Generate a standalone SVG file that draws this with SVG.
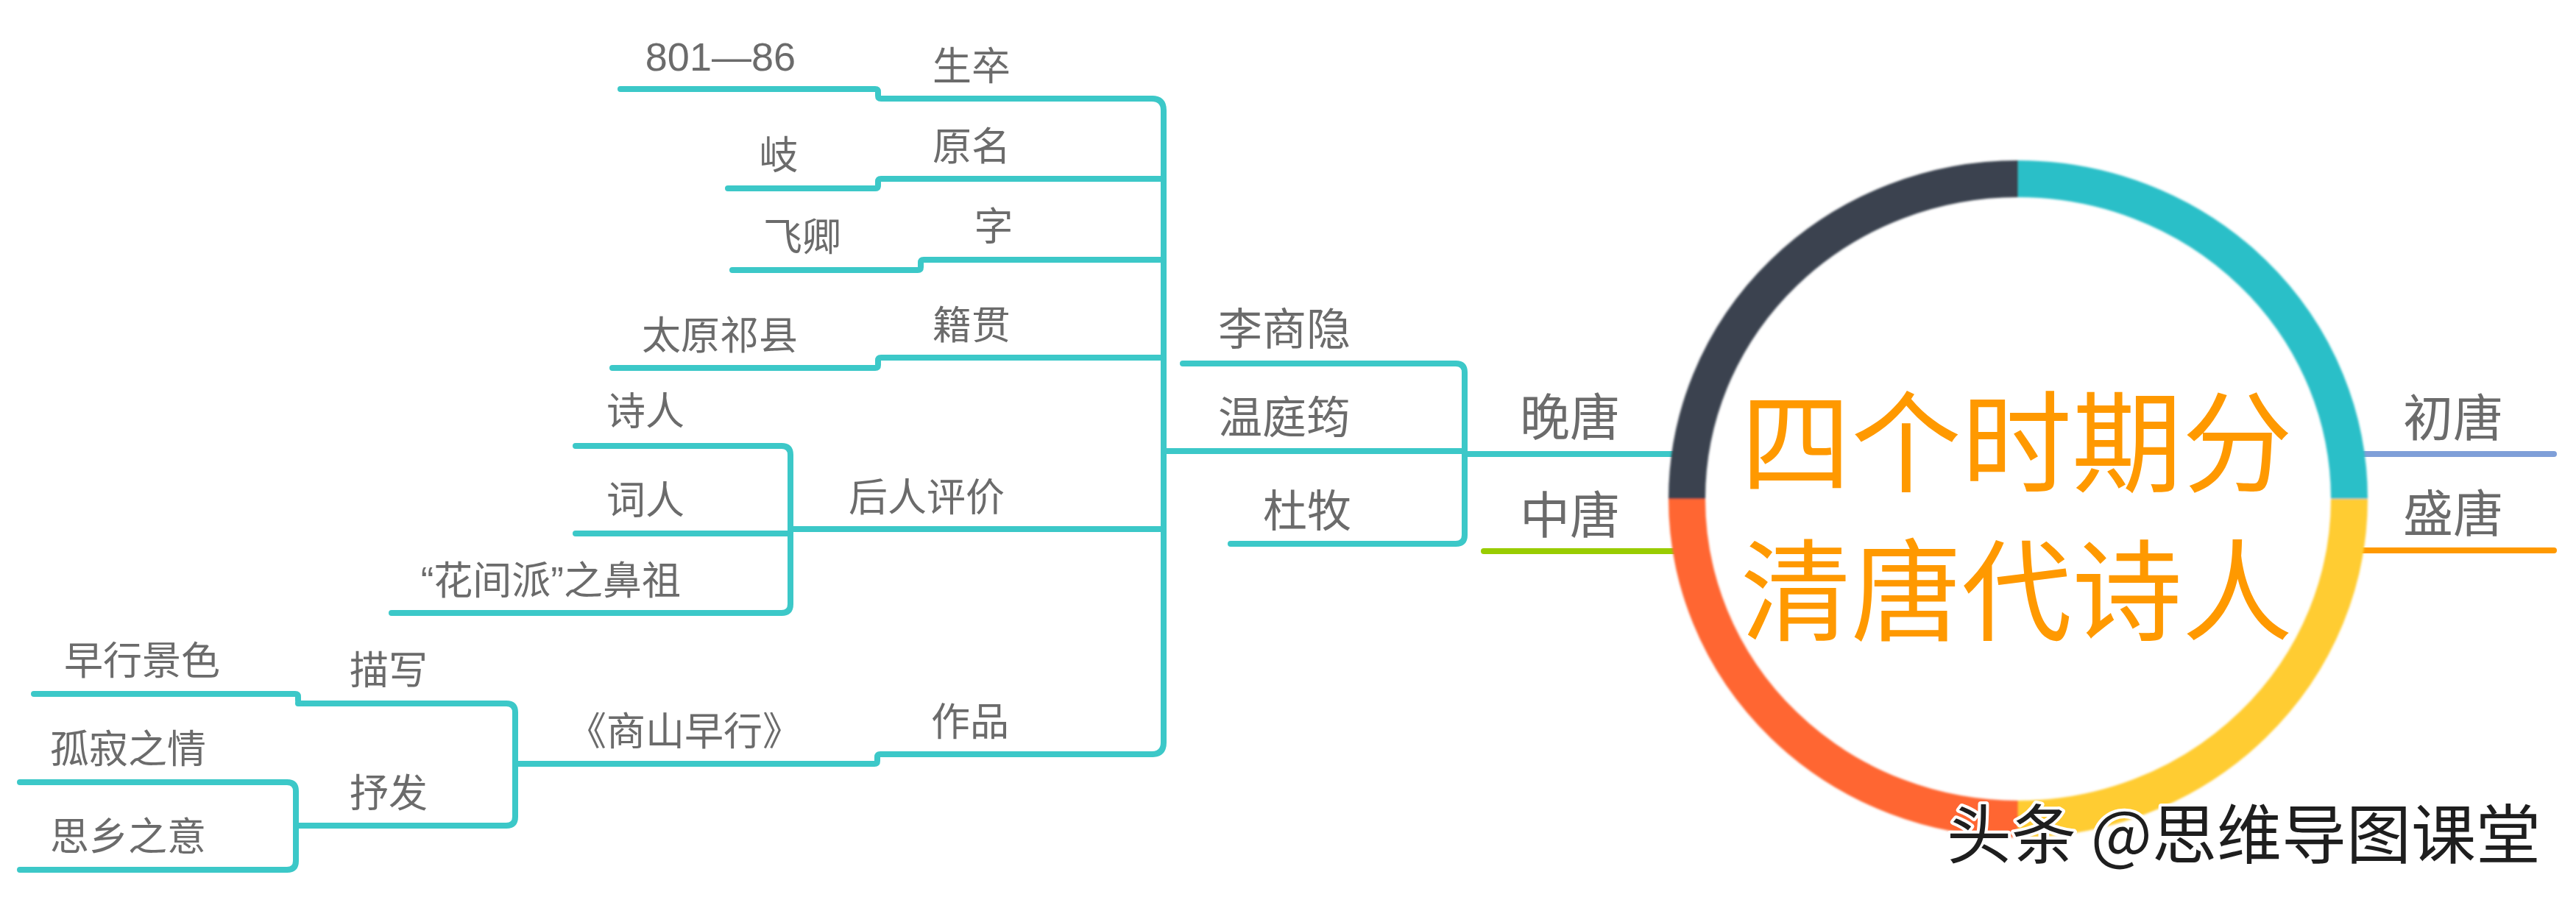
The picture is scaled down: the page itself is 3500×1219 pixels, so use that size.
<svg xmlns="http://www.w3.org/2000/svg" width="3500" height="1219" viewBox="0 0 3500 1219">
  <style>
    .ln { fill: none; stroke: #3CC8C8; stroke-width: 8; stroke-linecap: round; stroke-linejoin: round; }
    .t { font-family: "Noto Sans CJK SC", "Liberation Sans", sans-serif; fill: #6B6B6B; text-anchor: middle; }
    .s3 { font-size: 53px; }
    .s2 { font-size: 60px; }
    .s1 { font-size: 68px; }
    .q { font-family: "Liberation Sans", sans-serif; }
    .title { font-family: "Noto Sans CJK SC", sans-serif; font-size: 150px; fill: #FF9900; text-anchor: middle; }
    .ring { fill: none; stroke-width: 50; }
    .wm { font-family: "Noto Sans CJK SC", sans-serif; font-size: 88px; fill: #1E1E1E; stroke: #FFFFFF; stroke-width: 8; paint-order: stroke; stroke-linejoin: round; }
  </style>
  <defs>
    <filter id="soft" x="-5%" y="-5%" width="110%" height="110%">
      <feGaussianBlur stdDeviation="1.5"/>
    </filter>
  </defs>
  <rect width="3500" height="1219" fill="#FFFFFF"/>

  <g id="connectors">
    <path class="ln" d="M1565 134 Q1581 134 1581 150 L1581 1009 Q1581 1025 1565 1025"/>
    <path class="ln" d="M1581 613 L1990 613"/>
    <path class="ln" d="M1565 134 L1197 134 Q1193 134 1193 130 L1193 125 Q1193 121 1189 121 L843 121"/>
    <path class="ln" d="M1581 243 L1197 243 Q1193 243 1193 247 L1193 252 Q1193 256 1189 256 L989 256"/>
    <path class="ln" d="M1581 353 L1255 353 Q1251 353 1251 357 L1251 363 Q1251 367 1247 367 L995 367"/>
    <path class="ln" d="M1581 486 L1197 486 Q1193 486 1193 490 L1193 496 Q1193 500 1189 500 L832 500"/>
    <path class="ln" d="M1581 719 L1074 719"/>
    <path class="ln" d="M782 606 L1062 606 Q1074 606 1074 618 L1074 821 Q1074 833 1062 833 L532 833"/>
    <path class="ln" d="M782 725 L1074 725"/>
    <path class="ln" d="M1565 1025 L1196 1025 Q1192 1025 1192 1029 L1192 1034 Q1192 1038 1188 1038 L700 1038"/>
    <path class="ln" d="M405 956 L688 956 Q700 956 700 968 L700 1110 Q700 1122 688 1122 L402 1122"/>
    <path class="ln" d="M409 956 Q405 956 405 952 L405 947 Q405 943 401 943 L46 943"/>
    <path class="ln" d="M27 1063 L390 1063 Q402 1063 402 1075 L402 1170 Q402 1182 390 1182 L27 1182"/>
    <path class="ln" d="M1607 494 L1978 494 Q1990 494 1990 506 L1990 727 Q1990 739 1978 739 L1672 739"/>
    <path class="ln" d="M1990 617 L2280 617"/>
    <path class="ln" style="stroke:#99CC00" d="M2016 749 L2280 749"/>
    <path class="ln" style="stroke:#7F9FD8" d="M3205 617 L3470 617"/>
    <path class="ln" style="stroke:#FF9900" d="M3205 748 L3470 748"/>
  </g>

  <g id="center">
    <g filter="url(#soft)">
      <path class="ring" stroke="#2ABFC8" d="M2742 243 A450 435 0 0 1 3192 678"/>
      <path class="ring" stroke="#FFCC33" d="M3192 678 A450 435 0 0 1 2742 1113"/>
      <path class="ring" stroke="#FF6633" d="M2742 1113 A450 435 0 0 1 2292 678"/>
      <path class="ring" stroke="#3B4350" d="M2292 678 A450 435 0 0 1 2742 243"/>
    </g>
    <text class="title" x="2740" y="657">四个时期分</text>
    <text class="title" x="2740" y="859">清唐代诗人</text>
  </g>

  <g id="n-chutang"><text class="t s1" x="3333" y="593">初唐</text></g>
  <g id="n-shengtang"><text class="t s1" x="3333" y="723">盛唐</text></g>
  <g id="n-wantang"><text class="t s1" x="2133" y="592">晚唐</text></g>
  <g id="n-zhongtang"><text class="t s1" x="2133" y="725">中唐</text></g>

  <g id="n-lishangyin"><text class="t s2" x="1745" y="469">李商隐</text></g>
  <g id="n-wentingyun"><text class="t s2" x="1745" y="589">温庭筠</text></g>
  <g id="n-dumu"><text class="t s2" x="1776" y="716">杜牧</text></g>

  <g id="n-shengzu"><text class="t s3" x="1320" y="109">生卒</text></g>
  <g id="n-years"><text class="t s3" x="1081" y="96" style="text-anchor:end;font-family:'Liberation Sans',sans-serif;font-size:54px">801—86</text></g>
  <g id="n-yuanming"><text class="t s3" x="1320" y="218">原名</text></g>
  <g id="n-qi"><text class="t s3" x="1058" y="230">岐</text></g>
  <g id="n-zi"><text class="t s3" x="1350" y="327">字</text></g>
  <g id="n-feiqing"><text class="t s3" x="1090" y="341">飞卿</text></g>
  <g id="n-jiguan"><text class="t s3" x="1320" y="461">籍贯</text></g>
  <g id="n-taiyuan"><text class="t s3" x="978" y="475">太原祁县</text></g>
  <g id="n-pingjia"><text class="t s3" x="1259" y="695">后人评价</text></g>
  <g id="n-shiren"><text class="t s3" x="877" y="578">诗人</text></g>
  <g id="n-ciren"><text class="t s3" x="877" y="699">词人</text></g>
  <g id="n-huajian"><text class="t s3" x="925" y="808" style="text-anchor:end"><tspan class="q">“</tspan>花间派<tspan class="q">”</tspan>之鼻祖</text></g>
  <g id="n-zuopin"><text class="t s3" x="1318" y="1000">作品</text></g>
  <g id="n-shangshan"><text class="t s3" x="930" y="1013">《商山早行》</text></g>
  <g id="n-miaoxie"><text class="t s3" x="528" y="930">描写</text></g>
  <g id="n-zaoxing"><text class="t s3" x="193" y="917">早行景色</text></g>
  <g id="n-shufa"><text class="t s3" x="528" y="1097">抒发</text></g>
  <g id="n-guji"><text class="t s3" x="174" y="1037">孤寂之情</text></g>
  <g id="n-sixiang"><text class="t s3" x="174" y="1156">思乡之意</text></g>

  <g id="watermark"><text class="wm" x="2645" y="1166">头条 @思维导图课堂</text></g>
</svg>
